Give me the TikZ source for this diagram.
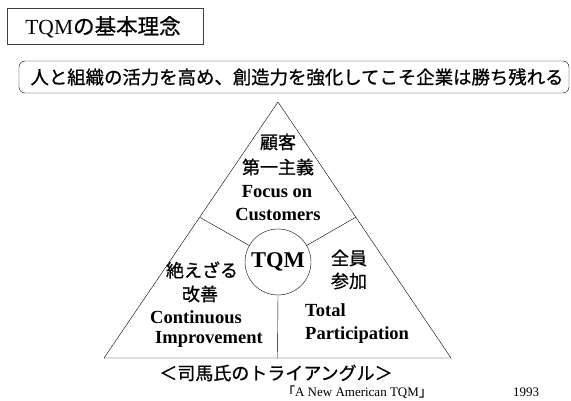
\documentclass[tikz,border=0pt]{standalone}
\usepackage{fontspec}
\setmainfont{Liberation Serif}
\newfontfamily\jp[FakeBold=0.8]{Noto Sans CJK JP}
\usetikzlibrary{calc}

\begin{document}
\begin{tikzpicture}[x=1pt,y=-1pt,
	jtext/.style={font=\jp\fontsize{18}{20}\selectfont, inner sep=0pt},
	etext/.style={font=\bfseries\fontsize{18.5}{20}\selectfont, inner sep=0pt}]
	\useasboundingbox (0,0) rectangle (571,401);

	% Titel
	\node[font=\fontsize{21.5}{24}\selectfont, inner sep=0pt] (title) at (103,27) {TQM{\jp の基本理念}};
	\draw[thin, draw=black!75] (7,8) rectangle (203,44);

	\node[jtext, font=\jp\fontsize{18.4}{20}\selectfont] (slogan) at (297,77) {人と組織の活力を高め、創造力を強化してこそ企業は勝ち残れる};
	\draw[thin, rounded corners=6pt] (19,61) rectangle (569,93);

	% Dreieck
	\coordinate (apex) at (278,102);
	\coordinate (bl) at (104,358);
	\coordinate (br) at (451,358);
	\draw (apex) -- (bl) -- (br) -- cycle;

	\node[draw, circle, minimum size=66pt, inner sep=0pt, font=\bfseries\fontsize{22.5}{24}\selectfont] (tqm) at (278,262) {TQM};

	\coordinate (cl) at ($(apex)!0.45!(bl)$);
	\coordinate (cr) at ($(apex)!0.45!(br)$);
	\coordinate (cb) at ($(bl)!0.5!(br)$);
	\draw (cl) -- (tqm);
	\draw (cr) -- (tqm);
	\draw (tqm.south) -- (cb);

	% oben
	\node[jtext] (kokyaku) at (278,142) {顧客};
	\node[jtext] (daiichi) at (278,167) {第一主義};
	\node[etext] (focus) at (277,192) {Focus on};
	\node[etext] (customers) at (278,214) {Customers};

	% links
	\node[jtext] (taezaru) at (202,270) {絶えざる};
	\node[jtext] (kaizen) at (200,294) {改善};
	\node[etext] (continuous) at (196,317) {Continuous};
	\node[etext] (improvement) at (209,339) {Improvement};

	% rechts
	\node[jtext] (zenin) at (349,258) {全員};
	\node[jtext] (sanka) at (349,281) {参加};
	\node[etext, anchor=west] (total) at (305,310) {Total};
	\node[etext, anchor=west] (participation) at (305,335) {Participation};

	% unten
	\node[jtext] (caption) at (276,373) {＜司馬氏のトライアングル＞};
	\node[font=\fontsize{13}{15}\selectfont, inner sep=0pt] (source) at (357,392) {{\jp ｢}A New American TQM{\jp ｣}};
	\node[font=\fontsize{13}{15}\selectfont, inner sep=0pt] (year) at (526,392) {1993};

\end{tikzpicture}
\end{document}
